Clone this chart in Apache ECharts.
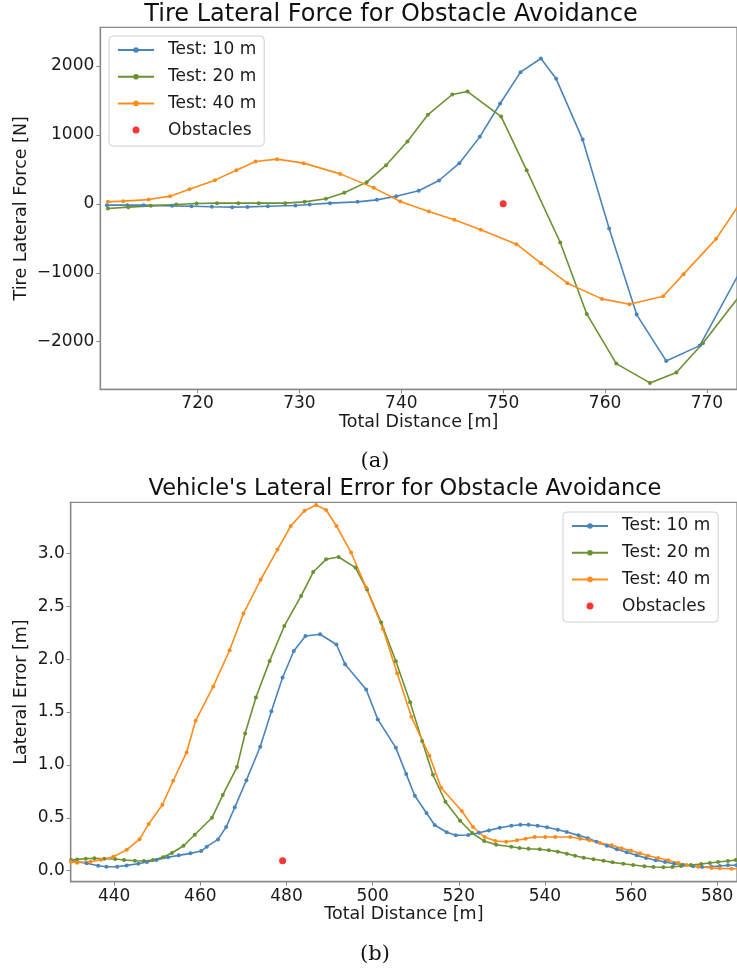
<!DOCTYPE html>
<html><head><meta charset="utf-8">
<script src="https://cdn.jsdelivr.net/npm/echarts@6/dist/echarts.min.js"></script>
<style>html,body{margin:0;padding:0;background:#fff}#c{width:737px;height:972px}</style>
</head><body><div id="c"></div>
<script>
// ---- Chart (a): Tire lateral force ----
const forceX10 = [711.1,713.1,714.7,717.5,719.4,721.4,723.4,724.9,726.9,729.6,731.0,733.0,735.7,737.6,739.5,741.7,743.7,745.7,747.7,749.7,751.7,753.7,755.2,757.8,760.4,763.1,766.0,769.3,773.5];
const forceY10 = [-19,-19,-19,-29,-34,-43,-48,-44,-34,-24,-10,10,29,58,111,189,339,590,972,1456,1911,2109,1814,933,-358,-1607,-2279,-2057,-914];
const forceX20 = [711.2,713.2,715.4,717.9,719.9,721.9,724.0,726.0,728.6,730.5,732.6,734.4,736.6,738.5,740.6,742.6,745.0,746.5,749.8,752.3,755.6,758.2,761.1,764.4,767.0,769.6,773.0];
const forceY20 = [-68,-48,-29,-10,5,10,10,10,10,29,73,160,315,561,904,1292,1587,1630,1267,489,-561,-1597,-2318,-2598,-2448,-2022,-1375];
const forceX40 = [711.2,712.7,715.2,717.3,719.2,721.7,723.8,725.7,727.8,730.4,734.0,737.3,739.9,742.7,745.2,747.8,751.3,753.7,756.3,759.7,762.4,765.7,767.7,770.9,773.9];
const forceY40 = [29,39,62,112,213,344,489,614,649,591,435,232,35,-112,-232,-377,-585,-861,-1151,-1379,-1456,-1340,-1020,-508,152];
const obstacleA = [[750, 0]];
const forceTicksX = [720,730,740,750,760,770];
const forceTicksY = [-2000,-1000,0,1000,2000];

// ---- Chart (b): Lateral error ----
const errX10 = [430.1,433.6,436.3,438.2,440.7,442.9,445.6,447.6,449.8,452.5,455.0,457.7,460.2,461.5,464.1,466.0,468.0,470.7,473.9,476.5,479.1,481.7,484.4,487.8,491.6,493.6,498.5,501.2,505.4,507.8,509.8,512.5,514.4,517.2,519.3,522.2,524.7,527.0,529.5,532.2,534.3,536.2,538.3,540.5,543.0,545.1,547.8,550.0,552.0,554.4,556.7,559.0,561.3,563.5,565.7,567.9,570.0,572.1,574.4,576.5,578.7,580.6,582.5,584.5];
const errY10 = [0.094,0.070,0.047,0.038,0.038,0.050,0.066,0.082,0.101,0.127,0.145,0.164,0.186,0.227,0.296,0.413,0.599,0.856,1.171,1.508,1.826,2.077,2.219,2.235,2.138,1.952,1.713,1.430,1.161,0.913,0.708,0.545,0.432,0.363,0.334,0.337,0.359,0.381,0.406,0.425,0.434,0.434,0.425,0.410,0.387,0.365,0.334,0.306,0.274,0.236,0.202,0.174,0.145,0.120,0.098,0.082,0.066,0.054,0.042,0.035,0.038,0.044,0.051,0.051];
const errX20 = [430.0,431.4,433.4,435.4,437.7,440.2,442.3,444.8,446.9,449.0,451.3,453.4,456.1,458.7,462.7,465.2,468.5,470.4,472.9,476.1,479.5,483.4,486.2,489.2,492.1,496.0,498.7,502.0,505.4,508.7,511.5,514.0,516.9,520.3,523.1,525.9,528.7,532.2,534.1,536.2,538.8,540.9,543.0,545.1,547.0,549.0,551.3,553.6,555.7,558.2,560.5,563.1,565.2,567.5,569.6,571.6,573.9,576.3,578.3,580.2,582.5,584.3];
const errY20 = [0.101,0.107,0.113,0.117,0.113,0.110,0.101,0.094,0.092,0.101,0.127,0.167,0.236,0.340,0.500,0.715,0.979,1.297,1.637,1.983,2.313,2.597,2.823,2.943,2.965,2.865,2.657,2.346,1.980,1.593,1.225,0.907,0.652,0.472,0.356,0.280,0.245,0.227,0.214,0.208,0.202,0.193,0.180,0.161,0.142,0.123,0.108,0.094,0.079,0.066,0.054,0.042,0.035,0.032,0.035,0.044,0.054,0.063,0.073,0.082,0.092,0.101];
const errX40 = [430.0,431.4,434.5,436.9,439.8,442.9,445.9,448.0,451.2,453.7,456.8,458.9,463.0,466.8,470.0,474.0,477.9,481.0,484.2,486.9,489.2,491.6,495.0,498.5,502.4,505.7,509.0,513.2,515.9,520.7,523.3,526.0,528.5,531.0,533.5,535.5,537.6,540.1,542.4,545.9,548.2,550.3,552.8,555.5,557.8,560.0,562.1,564.0,566.3,568.6,571.0,572.9,575.6,578.7,580.6,583.3,585.0];
const errY40 = [0.085,0.076,0.085,0.104,0.132,0.197,0.298,0.441,0.623,0.850,1.118,1.417,1.742,2.084,2.430,2.750,3.035,3.258,3.403,3.456,3.409,3.258,3.007,2.676,2.285,1.867,1.454,1.086,0.784,0.564,0.413,0.318,0.280,0.274,0.287,0.302,0.318,0.318,0.318,0.318,0.302,0.287,0.262,0.240,0.211,0.189,0.164,0.142,0.120,0.098,0.073,0.054,0.038,0.025,0.022,0.019,0.019];
const obstacleB = [[479.1, 0.095]];
const errTicksX = [440,460,480,500,520,540,560,580];
const errTicksY = [0,0.5,1.0,1.5,2.0,2.5,3.0];

const names = ['Test: 10 m','Test: 20 m','Test: 40 m','Obstacles'];
const colors = ['#4a84bc','#6b9130','#ff8c1a'];
const FONT = 'DejaVu Sans';

function pairs(xs, ys){ return xs.map((x,i)=>[x, ys[i]]); }
function minusFmt(v){ return v < 0 ? '\u2212' + Math.abs(v) : String(v); }

function lineSeries(name, data, color, idx){
  return {type:'line', name, data, xAxisIndex:idx, yAxisIndex:idx,
    symbol:'circle', symbolSize:4, showSymbol:true,
    lineStyle:{color, width:1.6}, itemStyle:{color},
    clip:true, animation:false, z:2};
}
function axisCommon(){
  return {
    nameMoveOverlap:false,
    axisLine:{show:true, onZero:false, lineStyle:{color:'#888', width:1.3}},
    axisTick:{show:true, inside:false, length:4, lineStyle:{color:'#888', width:1}},
    axisLabel:{color:'#1a1a1a', fontFamily:FONT, fontSize:17},
    splitLine:{show:false},
    nameTextStyle:{color:'#1a1a1a', fontFamily:FONT, fontSize:17.5}
  };
}
function mkX(idx, min, max, ticks, gap){
  const a = axisCommon();
  return Object.assign(a, {type:'value', gridIndex:idx, min, max,
    name:'Total Distance [m]', nameLocation:'middle', nameGap:gap,
    axisLabel:Object.assign(a.axisLabel,{customValues:ticks, margin:6, formatter:v=>String(v)}),
    axisTick:Object.assign(a.axisTick,{customValues:ticks})});
}
function mkY(idx, min, max, ticks, name, gap, fmt){
  const a = axisCommon();
  return Object.assign(a, {type:'value', gridIndex:idx, min, max,
    name, nameLocation:'middle', nameGap:gap,
    axisLabel:Object.assign(a.axisLabel,{customValues:ticks, margin:6, formatter:fmt}),
    axisTick:Object.assign(a.axisTick,{customValues:ticks})});
}
function mkLegend(left, top){
  return {show:true, orient:'vertical', left, top, data:names,
    itemWidth:36, itemHeight:7, itemGap:6.7,
    backgroundColor:'#fff', borderColor:'#d0d0d0', borderWidth:1, borderRadius:4,
    padding:[4,8,6,8],
    textStyle:{fontFamily:FONT, fontSize:17, color:'#1a1a1a', lineHeight:20, padding:[0,0,0,9]}};
}

const chart = echarts.init(document.getElementById('c'), null, {renderer:'canvas'});
chart.setOption({
  animation:false,
  backgroundColor:'#fff',
  grid:[
    {left:100.3, top:27.3, width:640, height:362, show:true, borderColor:'#888', borderWidth:1.3, backgroundColor:'transparent'},
    {left:70.7, top:502.3, width:670, height:379.4, show:true, borderColor:'#888', borderWidth:1.3, backgroundColor:'transparent'}
  ],
  xAxis:[ mkX(0, 710.45, 772.95, forceTicksX, 24), mkX(1, 429.9, 584.6, errTicksX, 24) ],
  yAxis:[
    mkY(0, -2691, 2562, forceTicksY, 'Tire Lateral Force [N]', 70, v=>minusFmt(v)),
    mkY(1, -0.104, 3.482, errTicksY, 'Lateral Error [m]', 40, v=>v.toFixed(1))
  ],
  legend:[ mkLegend(109, 36), mkLegend(563, 512) ],
  series:[
    lineSeries(names[0], pairs(forceX10, forceY10), colors[0], 0),
    lineSeries(names[1], pairs(forceX20, forceY20), colors[1], 0),
    lineSeries(names[2], pairs(forceX40, forceY40), colors[2], 0),
    {type:'scatter', name:names[3], data:obstacleA, xAxisIndex:0, yAxisIndex:0, symbolSize:7, itemStyle:{color:'#ff0000'}, z:3},
    lineSeries(names[0], pairs(errX10, errY10), colors[0], 1),
    lineSeries(names[1], pairs(errX20, errY20), colors[1], 1),
    lineSeries(names[2], pairs(errX40, errY40), colors[2], 1),
    {type:'scatter', name:names[3], data:obstacleB, xAxisIndex:1, yAxisIndex:1, symbolSize:7, itemStyle:{color:'#ff0000'}, z:3}
  ],
  graphic:[
    {type:'text', x:391, y:15, style:{text:'Tire Lateral Force for Obstacle Avoidance', fontFamily:FONT, fontSize:24, fill:'#111', textAlign:'center', textVerticalAlign:'middle'}},
    {type:'text', x:405, y:489, style:{text:"Vehicle's Lateral Error for Obstacle Avoidance", fontFamily:FONT, fontSize:22.5, fill:'#111', textAlign:'center', textVerticalAlign:'middle'}},
    {type:'text', x:375, y:462, style:{text:'(a)', fontFamily:'DejaVu Serif', fontSize:21, fill:'#111', textAlign:'center', textVerticalAlign:'middle'}},
    {type:'text', x:375, y:955, style:{text:'(b)', fontFamily:'DejaVu Serif', fontSize:21, fill:'#111', textAlign:'center', textVerticalAlign:'middle'}}
  ]
});
</script></body></html>
